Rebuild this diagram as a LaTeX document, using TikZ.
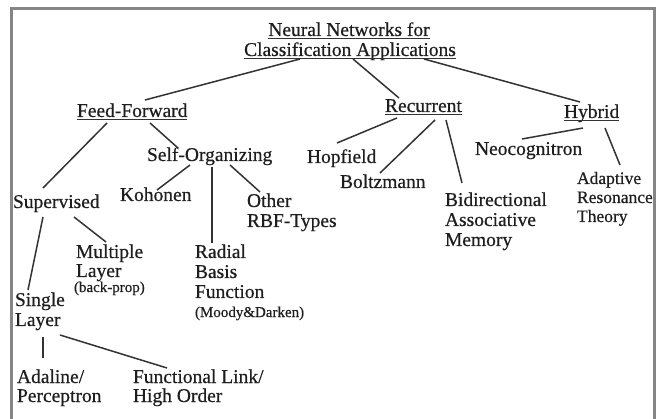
\documentclass[tikz,border=0pt]{standalone}
\usepackage{fontspec}
\setmainfont{Liberation Serif}[FakeBold=0.5]
\usetikzlibrary{calc}

\definecolor{inkc}{HTML}{1E1E1E}
\definecolor{linec}{HTML}{333333}
\definecolor{framec}{HTML}{858585}

\tikzset{
  lbl/.style={anchor=base west, inner sep=0pt, outer sep=0pt, text=inkc,
              font=\fontsize{19.5}{20}\selectfont},
  ttl/.style={lbl, anchor=base},
  narrow/.style={lbl, font=\fontsize{17.5}{18}\selectfont},
  note/.style={lbl, font=\fontsize{15}{16}\selectfont},
  link/.style={draw=linec, line width=1.5pt},
  uline/.style={draw=linec, line width=1.1pt}
}

\begin{document}
\begin{tikzpicture}[x=1pt, y=-1pt]
  \useasboundingbox (0,0) rectangle (658,419);
  \clip (0,0) rectangle (658,419);
  \fill[white] (0,0) rectangle (658,419);

  % open frame running off the bottom edge
  \draw[framec, line width=2.4pt] (11.5,430) -- (11.5,8.5) -- (654.5,8.5) -- (654.5,430);

  % title
  \node[ttl] (t1) at (349,36) {Neural Networks for};
  \node[ttl] (t2) at (350,56) {Classification Applications};

  % second level
  \node[lbl] (ff)  at (77,117)  {Feed-Forward};
  \node[lbl] (rec) at (385,112) {Recurrent};
  \node[lbl] (hyb) at (564,118) {Hybrid};

  % feed-forward branch
  \node[lbl] (so)  at (147,161) {Self-Organizing};
  \node[lbl] (koh) at (120,201) {Kohonen};
  \node[lbl] (oth) at (247,207) {Other};
  \node[lbl] (oth2) at (247,227) {RBF-Types};
  \node[lbl] (rad) at (195,258) {Radial};
  \node[lbl] (rad2) at (195,278) {Basis};
  \node[lbl] (rad3) at (195,298) {Function};
  \node[note] (rad4) at (195,317) {(Moody\&Darken)};

  \node[lbl] (sup) at (13,208) {Supervised};
  \node[lbl] (mul) at (76,258) {Multiple};
  \node[lbl] (mul2) at (76,277) {Layer};
  \node[note] (mul3) at (74,292) {(back-prop)};
  \node[lbl] (sgl) at (15,306) {Single};
  \node[lbl] (sgl2) at (15,326) {Layer};
  \node[lbl] (ada) at (17,383) {Adaline/};
  \node[lbl] (ada2) at (17,402) {Perceptron};
  \node[lbl] (fun) at (133,383) {Functional Link/};
  \node[lbl] (fun2) at (133,402) {High Order};

  % recurrent branch
  \node[lbl] (hop) at (307,163) {Hopfield};
  \node[lbl] (bol) at (340,188) {Boltzmann};
  \node[lbl] (bid) at (445,206) {Bidirectional};
  \node[lbl] (bid2) at (445,226) {Associative};
  \node[lbl] (bid3) at (445,246) {Memory};

  % hybrid branch
  \node[lbl] (neo) at (475,155) {Neocognitron};
  \node[narrow] (art) at (577,184) {Adaptive};
  \node[narrow] (art2) at (577,203) {Resonance};
  \node[narrow] (art3) at (577,222) {Theory};

  % underlined headings
  \foreach \n in {t1,t2,ff,rec,hyb}
    \draw[uline] ([yshift=-2.2pt]\n.base west) -- ([yshift=-2.2pt]\n.base east);

  % connectors
  \draw[link] ($(t2.base)+(-50,3)$) -- ($(ff.base west)+(68,-17)$);
  \draw[link] ($(t2.base)+(3,3)$)   -- ($(rec.base west)+(14,-14)$);
  \draw[link] ($(t2.base)+(74,3)$)  -- ($(hyb.base west)+(16,-16)$);

  \draw[link] ($(ff.base west)+(30,6)$) -- ($(sup.base west)+(30,-20)$);
  \draw[link] ($(ff.base west)+(73,6)$) -- ($(so.base west)+(31,-13)$);

  \draw[link] ($(so.base west)+(43,4)$) -- ($(koh.base west)+(37,-11)$);
  \draw[link] ($(so.base west)+(65,6)$) -- ($(rad.base west)+(17,-15)$);
  \draw[link] ($(so.base west)+(83,4)$) -- ($(oth.base west)+(13,-15)$);

  \draw[link] ($(sup.base west)+(61,9)$) -- ($(mul.base west)+(30,-16)$);
  \draw[link] ($(sup.base west)+(30,9)$) -- ($(sgl.base west)+(13,-16)$);

  \draw[link] ($(sgl2.base west)+(28,11)$) -- ($(ada.base west)+(26,-25)$);
  \draw[link] ($(sgl2.base west)+(45,9)$)  -- ($(fun.base west)+(34,-15)$);

  \draw[link] ($(rec.base west)+(12,6)$) -- ($(hop.base west)+(30,-20)$);
  \draw[link] ($(rec.base west)+(50,8)$) -- ($(bol.base west)+(40,-15)$);
  \draw[link] ($(rec.base west)+(61,8)$) -- ($(bid.base west)+(17,-23)$);

  \draw[link] ($(hyb.base west)+(19,10)$) -- ($(neo.base west)+(47,-16)$);
  \draw[link] ($(hyb.base west)+(41,10)$) -- ($(art.base west)+(43,-19)$);
\end{tikzpicture}
\end{document}
